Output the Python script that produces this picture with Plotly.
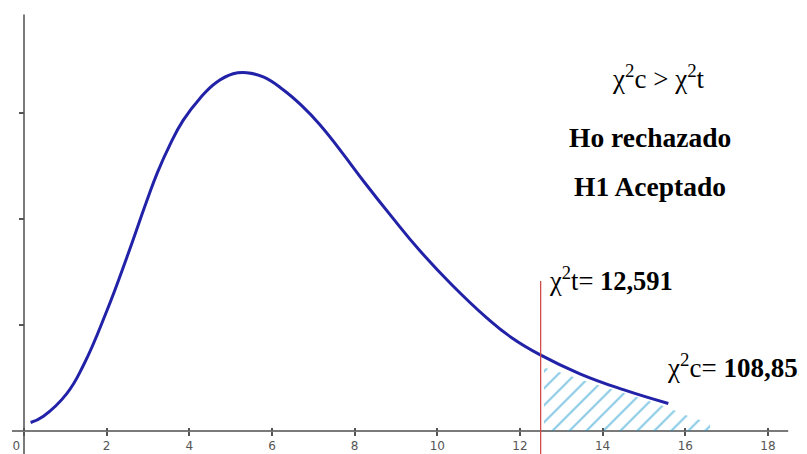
import plotly.graph_objects as go

# ---- data ----
curve_x = [0.16, 0.47, 1.03, 1.45, 2.00, 2.49, 2.97, 3.23, 3.53, 3.85, 4.26, 4.66,
           5.06, 5.39, 5.79, 6.27, 6.72, 7.16, 7.65, 8.25, 8.90, 9.58, 10.35,
           11.19, 11.80, 12.48, 13.45, 14.50, 15.59]
curve_y = [0.08, 0.14, 0.35, 0.63, 1.13, 1.64, 2.17, 2.44, 2.70, 2.93, 3.14, 3.29,
           3.37, 3.38, 3.34, 3.22, 3.07, 2.89, 2.65, 2.34, 2.02, 1.70, 1.38,
           1.07, 0.88, 0.72, 0.54, 0.39, 0.26]

hatch_x = [12.58, 13.0, 13.5, 14.0, 14.5, 15.0, 15.59, 16.0, 16.6]
hatch_top = [0.60, 0.55, 0.48, 0.42, 0.36, 0.30, 0.22, 0.15, 0.07]

x_crit = 12.5
x_ticks = [0, 2, 4, 6, 8, 10, 12, 14, 16, 18]
x_tick_labels = ["0\u2007\u2007", "2", "4", "6", "8", "10", "12", "14", "16", "18"]
y_ticks = [1, 2, 3]

# the page has an 8px body margin: figure starts at page pixel (8, 8)
OFF = 8
W, H = 807 - OFF, 454 - OFF
X0PX, PXU = 24 - OFF, 41.33      # pixel of x=0, pixels per x unit
Y0PX, PYU = 431 - OFF, 106       # pixel of y=0, pixels per y unit
xr = [-X0PX / PXU, (W - X0PX) / PXU]
yr = [-(H - Y0PX) / PYU, Y0PX / PYU]


def px(xp):          # page pixel -> paper fraction
    return (xp - OFF) / W


def py(yp):
    return 1 - (yp - OFF) / H


fig = go.Figure()

fig.add_trace(go.Scatter(
    x=hatch_x, y=hatch_top, mode="lines", line=dict(width=0, color="rgba(0,0,0,0)"),
    fill="tozeroy", fillcolor="rgba(0,0,0,0)",
    fillpattern=dict(shape="/", fgcolor="#1898cc", bgcolor="rgba(0,0,0,0)",
                     size=12, solidity=0.18),
    hoverinfo="skip"))

fig.add_trace(go.Scatter(
    x=curve_x, y=curve_y, mode="lines",
    line=dict(color="#2222a8", width=3, shape="spline", smoothing=1.3)))

# dummy trace for the overlay axis (upper half of tick marks)
fig.add_trace(go.Scatter(x=[x_ticks[0]], y=[0], xaxis="x2", mode="markers",
                         marker=dict(size=1, color="rgba(0,0,0,0)"),
                         hoverinfo="skip"))

serif = "Liberation Serif, Times New Roman, serif"
ann = [
    dict(text="\u03c7<sup>2</sup>c > \u03c7<sup>2</sup>t", x=px(658), y=py(77),
         xanchor="center", size=27),
    dict(text="<b>Ho rechazado</b>", x=px(650), y=py(137), xanchor="center", size=27.5),
    dict(text="<b>H1 Aceptado</b>", x=px(650), y=py(187), xanchor="center", size=27.5),
    dict(text="\u03c7<sup>2</sup>t= <b>12,591</b>", x=px(547), y=py(279),
         xanchor="left", size=26.5),
    dict(text="\u03c7<sup>2</sup>c= <b>108,85.</b>", x=px(665), y=py(366),
         xanchor="left", size=27),
]
for a in ann:
    fig.add_annotation(text=a["text"], x=a["x"], y=a["y"], xref="paper", yref="paper",
                       xanchor=a["xanchor"], yanchor="middle", showarrow=False,
                       font=dict(family=serif, size=a["size"], color="#000"))

axis_col = "#7a7a7a"
fig.add_shape(type="line", x0=-0.29, x1=18.49, y0=0, y1=0, xref="x", yref="y",
              line=dict(color=axis_col, width=2), layer="below")
fig.add_shape(type="line", x0=0, x1=0, y0=yr[0], y1=3.93, xref="x", yref="y",
              line=dict(color=axis_col, width=2), layer="below")
fig.add_shape(type="line", x0=x_crit, x1=x_crit, y0=yr[0], y1=1.415, xref="x", yref="y",
              line=dict(color="#d24a4a", width=1.3))

pos_x = (H - Y0PX) / H
fig.update_layout(
    width=W, height=H, margin=dict(l=0, r=0, t=0, b=0),
    paper_bgcolor="white", plot_bgcolor="white", showlegend=False,
    xaxis=dict(range=xr, anchor="free", position=pos_x, tickvals=x_ticks,
               ticktext=x_tick_labels, ticks="outside", ticklen=4, tickwidth=1.5,
               tickcolor="#555", showline=False, showgrid=False, zeroline=False,
               tickfont=dict(family="DejaVu Sans", size=12, color="#555")),
    xaxis2=dict(range=xr, overlaying="x", anchor="free", position=pos_x,
                tickvals=x_ticks, ticks="inside", ticklen=3, tickwidth=1.5,
                tickcolor="#555", showticklabels=False, showline=False,
                showgrid=False, zeroline=False),
    yaxis=dict(range=yr, anchor="free", position=X0PX / W, tickvals=y_ticks,
               showticklabels=False, ticks="outside", ticklen=5, tickwidth=1.5,
               tickcolor="#555", showline=False, showgrid=False, zeroline=False),
)

fig.write_html("out.html")
